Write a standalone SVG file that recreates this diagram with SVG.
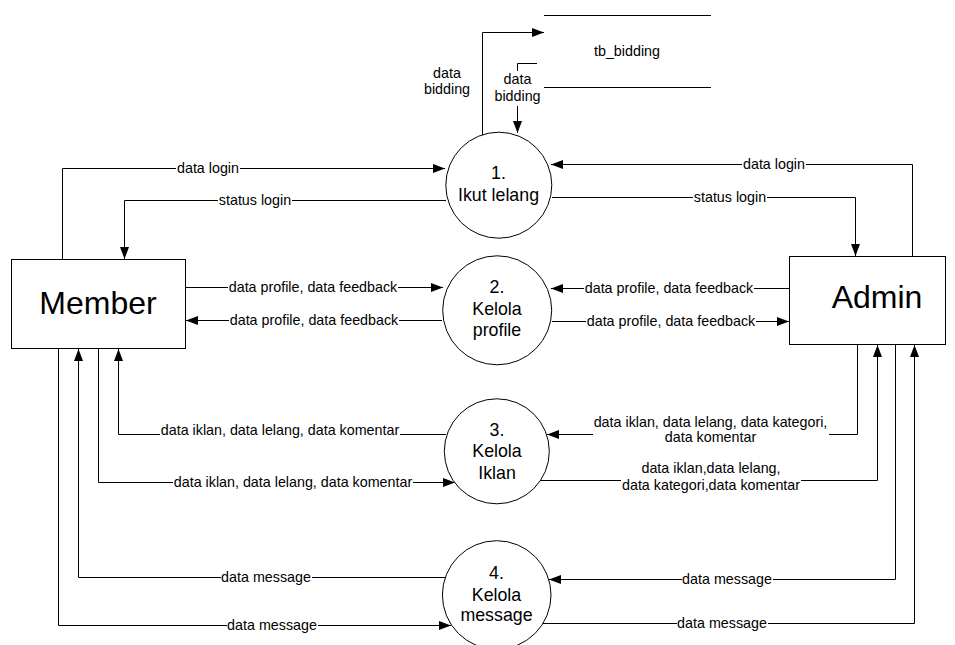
<svg xmlns="http://www.w3.org/2000/svg" width="955" height="645" viewBox="0 0 955 645">
<style>
.ln{fill:none;stroke:#000;stroke-width:1}
.bx{fill:#fff;stroke:#000;stroke-width:1}
.bg{fill:#fff;stroke:none}
.lbl{font-family:"Liberation Sans",Arial,sans-serif;font-size:14.3px;text-anchor:middle;fill:#000}
.proc{font-family:"Liberation Sans",Arial,sans-serif;font-size:17.8px;text-anchor:middle;fill:#000}
.ent{font-family:"Liberation Sans",Arial,sans-serif;font-size:32px;text-anchor:middle;fill:#000}
</style>
<defs>
<marker id="ah" viewBox="0 0 12 9" refX="12" refY="4.5" markerWidth="12" markerHeight="9" markerUnits="userSpaceOnUse" orient="auto">
<path d="M0,0 L12,4.5 L0,9 z" fill="#000"/>
</marker>
</defs>
<rect width="955" height="645" fill="#fff"/>

<g id="member">
<rect class="bx" x="11.5" y="259.5" width="174" height="89"/>
<text class="ent" x="98" y="314">Member</text>
</g>
<g id="admin">
<rect class="bx" x="789.5" y="256.5" width="156" height="88"/>
<text class="ent" x="877" y="308">Admin</text>
</g>
<g id="tb_bidding">
<line class="ln" x1="544" y1="15.5" x2="711" y2="15.5"/>
<line class="ln" x1="544" y1="87.5" x2="711" y2="87.5"/>
<text class="lbl" x="627" y="56">tb_bidding</text>
</g>
<g id="p1">
<circle class="bx" cx="498.8" cy="185.2" r="53"/>
<text class="proc" x="498.5" y="179">1.</text>
<text class="proc" x="498.5" y="201">Ikut lelang</text>
</g>
<g id="p2">
<circle class="bx" cx="497.2" cy="310.3" r="54.5"/>
<text class="proc" x="497" y="293">2.</text>
<text class="proc" x="497" y="315">Kelola</text>
<text class="proc" x="497" y="336">profile</text>
</g>
<g id="p3">
<circle class="bx" cx="496.8" cy="451.3" r="52.5"/>
<text class="proc" x="497" y="436">3.</text>
<text class="proc" x="497" y="457">Kelola</text>
<text class="proc" x="497" y="479">Iklan</text>
</g>
<g id="p4">
<circle class="bx" cx="496.7" cy="595" r="54.3"/>
<text class="proc" x="496.5" y="579">4.</text>
<text class="proc" x="496.5" y="601">Kelola</text>
<text class="proc" x="496.5" y="621">message</text>
</g>

<g id="connectors">
<path class="ln" marker-end="url(#ah)" d="M62.5,259 V168.5 H445"/>
<path class="ln" marker-end="url(#ah)" d="M446,200.5 H124.5 V259"/>
<path class="ln" marker-end="url(#ah)" d="M912.5,256 V164.5 H551"/>
<path class="ln" marker-end="url(#ah)" d="M552,197.5 H855.5 V256"/>
<path class="ln" marker-end="url(#ah)" d="M185,287.5 H443"/>
<path class="ln" marker-end="url(#ah)" d="M442,320.5 H186"/>
<path class="ln" marker-end="url(#ah)" d="M789,288.5 H551"/>
<path class="ln" marker-end="url(#ah)" d="M552,321.5 H789"/>
<path class="ln" marker-end="url(#ah)" d="M446,434.5 H118.5 V349"/>
<path class="ln" marker-end="url(#ah)" d="M98.5,349 V482.5 H455"/>
<path class="ln" marker-end="url(#ah)" d="M857.5,345 V434.5 H547"/>
<path class="ln" marker-end="url(#ah)" d="M540,480.5 H877.5 V345"/>
<path class="ln" marker-end="url(#ah)" d="M445,577.5 H78.5 V349"/>
<path class="ln" marker-end="url(#ah)" d="M58.5,349 V625.5 H451"/>
<path class="ln" marker-end="url(#ah)" d="M895.5,345 V579.5 H549"/>
<path class="ln" marker-end="url(#ah)" d="M543,623.5 H914.5 V345"/>
<path class="ln" marker-end="url(#ah)" d="M482.5,135 V32.5 H544"/>
<path class="ln" marker-end="url(#ah)" d="M537,63.5 H517.5 V133"/>

<rect class="bg" x="176" y="161" width="64" height="14"/>
<text class="lbl" x="208" y="173">data login</text>
<rect class="bg" x="218" y="193" width="74" height="14"/>
<text class="lbl" x="255" y="205">status login</text>
<rect class="bg" x="742" y="157" width="64" height="14"/>
<text class="lbl" x="774" y="169">data login</text>
<rect class="bg" x="693" y="190" width="74" height="14"/>
<text class="lbl" x="730" y="202">status login</text>

<rect class="bg" x="228" y="280" width="170" height="14"/>
<text class="lbl" x="313" y="292">data profile, data feedback</text>
<rect class="bg" x="229" y="313" width="170" height="14"/>
<text class="lbl" x="314" y="325">data profile, data feedback</text>
<rect class="bg" x="584" y="281" width="170" height="14"/>
<text class="lbl" x="669" y="293">data profile, data feedback</text>
<rect class="bg" x="586" y="314" width="170" height="14"/>
<text class="lbl" x="671" y="326">data profile, data feedback</text>

<rect class="bg" x="160" y="423" width="240" height="14"/>
<text class="lbl" x="280" y="435">data iklan, data lelang, data komentar</text>
<rect class="bg" x="173" y="475" width="240" height="14"/>
<text class="lbl" x="293" y="487">data iklan, data lelang, data komentar</text>

<rect class="bg" x="593" y="416" width="236" height="30"/>
<text class="lbl" x="710.5" y="427">data iklan, data lelang, data kategori,</text>
<text class="lbl" x="710.5" y="442">data komentar</text>
<rect class="bg" x="621" y="462" width="180" height="32"/>
<text class="lbl" x="711" y="473">data iklan,data lelang,</text>
<text class="lbl" x="711" y="490">data kategori,data komentar</text>

<rect class="bg" x="221" y="570" width="91" height="14"/>
<text class="lbl" x="266" y="582">data message</text>
<rect class="bg" x="227" y="618" width="91" height="14"/>
<text class="lbl" x="272" y="630">data message</text>
<rect class="bg" x="682" y="572" width="91" height="14"/>
<text class="lbl" x="727" y="584">data message</text>
<rect class="bg" x="677" y="616" width="91" height="14"/>
<text class="lbl" x="722" y="628">data message</text>

<text class="lbl" x="447" y="78">data</text>
<text class="lbl" x="447" y="94">bidding</text>
<rect class="bg" x="500" y="71" width="35" height="35"/>
<text class="lbl" x="517.5" y="84">data</text>
<text class="lbl" x="517.5" y="101">bidding</text>
</g>
</svg>
